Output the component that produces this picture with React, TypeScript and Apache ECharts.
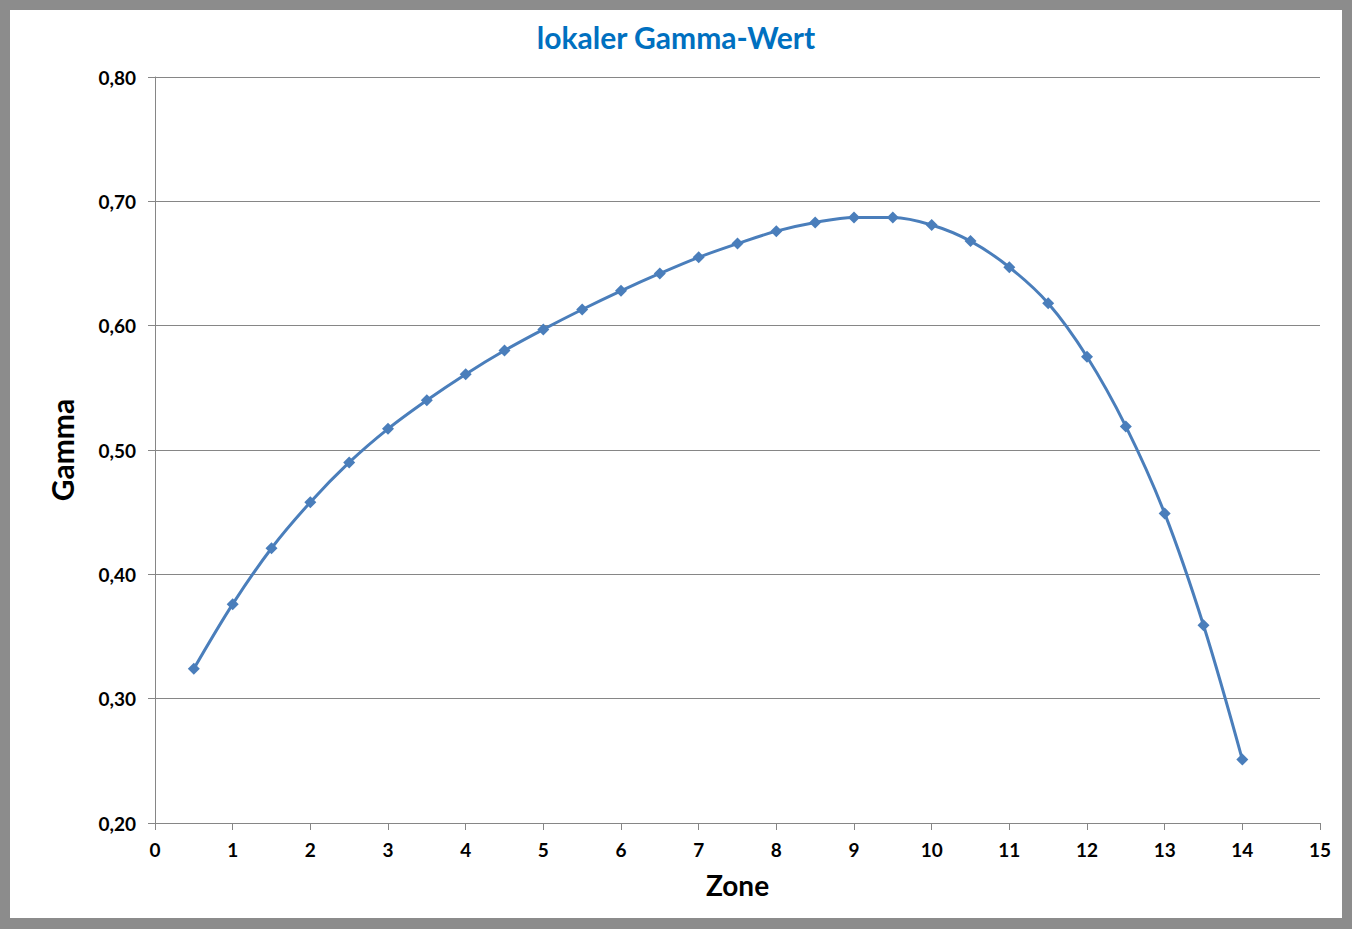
import React, { useEffect, useRef } from 'react';
import * as echarts from 'echarts';

// Zone (x) and local gamma (y)
const zones: number[] = [0.5, 1, 1.5, 2, 2.5, 3, 3.5, 4, 4.5, 5, 5.5, 6, 6.5, 7, 7.5, 8, 8.5, 9, 9.5, 10, 10.5, 11, 11.5, 12, 12.5, 13, 13.5, 14];
const gamma: number[] = [0.324, 0.376, 0.421, 0.458, 0.490, 0.517, 0.540, 0.561, 0.580, 0.597, 0.613, 0.628, 0.642, 0.655, 0.666, 0.676, 0.683, 0.687, 0.687, 0.681, 0.668, 0.647, 0.618, 0.575, 0.519, 0.449, 0.359, 0.251];

const titleText = 'lokaler Gamma-Wert';
const xName = 'Zone';
const yName = 'Gamma';

const FONT = 'Lato, "Open Sans", sans-serif';
const AXIS_GREY = '#868686';

const GammaChart: React.FC = () => {
    const chartRef = useRef<HTMLDivElement>(null);

    useEffect(() => {
        const chartDom = chartRef.current!;
        const myChart = echarts.init(chartDom, null, { renderer: 'svg' });

        const option: echarts.EChartsOption = {
            animation: false,
            backgroundColor: '#ffffff',
            title: {
                text: titleText,
                left: 'center',
                top: 7,
                textStyle: {
                    color: '#0070C0',
                    fontFamily: FONT,
                    fontWeight: 'bold',
                    fontSize: 30,
                },
            },
            grid: {
                left: 145,
                right: 22,
                top: 67,
                bottom: 95,
            },
            xAxis: {
                type: 'value',
                min: 0,
                max: 15,
                interval: 1,
                name: xName,
                nameLocation: 'middle',
                nameGap: 48,
                nameTextStyle: {
                    color: '#000',
                    fontFamily: FONT,
                    fontWeight: 'bold',
                    fontSize: 28,
                },
                axisLine: { show: true, lineStyle: { color: AXIS_GREY, width: 1 } },
                axisTick: { show: true, length: 7, lineStyle: { color: AXIS_GREY } },
                splitLine: { show: false },
                axisLabel: {
                    color: '#000',
                    fontFamily: FONT,
                    fontWeight: 'bold',
                    fontSize: 19,
                    margin: 17,
                },
            },
            yAxis: {
                type: 'value',
                min: 0.2,
                max: 0.8,
                interval: 0.1,
                name: yName,
                nameLocation: 'middle',
                nameGap: 78,
                nameTextStyle: {
                    color: '#000',
                    fontFamily: FONT,
                    fontWeight: 'bold',
                    fontSize: 30,
                },
                axisLine: { show: true, lineStyle: { color: AXIS_GREY, width: 1 } },
                axisTick: { show: true, length: 7, lineStyle: { color: AXIS_GREY } },
                splitLine: { show: true, lineStyle: { color: AXIS_GREY, width: 1 } },
                axisLabel: {
                    color: '#000',
                    fontFamily: FONT,
                    fontWeight: 'bold',
                    fontSize: 19,
                    margin: 19,
                    formatter: (value: number) => value.toFixed(2).replace('.', ','),
                },
            },
            series: [
                {
                    type: 'line',
                    data: zones.map((z, i) => [z, gamma[i]]),
                    smooth: 0.35,
                    symbol: 'path://M0,-1L1,0L0,1L-1,0Z',
                    symbolSize: 12,
                    showAllSymbol: true,
                    lineStyle: { color: '#4A7EBB', width: 3 },
                    itemStyle: { color: '#4A7EBB' },
                },
            ],
        };

        myChart.setOption(option);

        const resizeObserver = new ResizeObserver(() => {
            myChart.resize();
        });
        resizeObserver.observe(chartDom);

        return () => {
            resizeObserver.disconnect();
            myChart.dispose();
        };
    }, []);

    return <div ref={chartRef} style={{ width: '100%', height: '100%' }} />;
};

const App: React.FC = () => {
    return (
        <div style={{ position: 'fixed', left: 0, top: 0, width: 1352, height: 929, background: '#8c8c8c' }}>
            <div style={{ position: 'absolute', left: 10, top: 10, width: 1332, height: 908, background: '#fff' }}>
                <GammaChart />
            </div>
        </div>
    );
};

export default App;
